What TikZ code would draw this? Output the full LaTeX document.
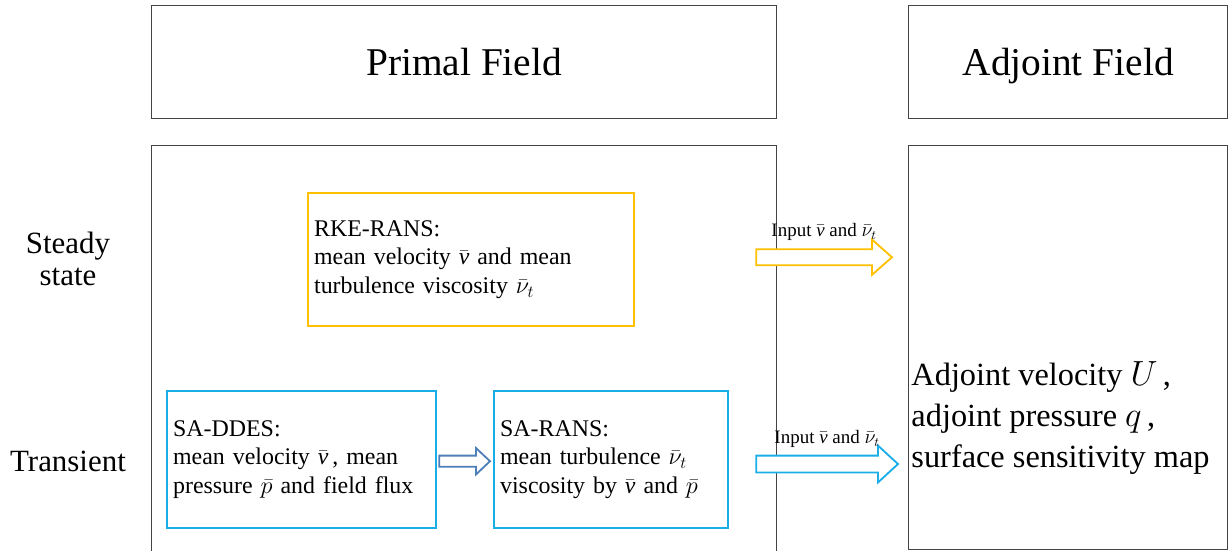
\documentclass[tikz,border=0pt]{standalone}
\usepackage{fontspec}
\setmainfont{Liberation Serif}
\usetikzlibrary{arrows.meta,calc,positioning}
\definecolor{RansOrange}{HTML}{FFC000}
\definecolor{DdesBlue}{HTML}{1AAEE8}
\definecolor{PassBlue}{HTML}{4F7FB8}
\definecolor{FrameGray}{HTML}{444444}
\newcommand{\vmean}{\bar{\textit{v}}}
\newcommand{\numean}{\bar{\nu}_t}

\begin{document}
\begin{tikzpicture}[>=Latex]
  \tikzset{
    frame/.style={draw=FrameGray, line width=0.9pt, fill=white, anchor=north west},
    headtext/.style={font=\fontsize{28}{32}\selectfont, text depth=0pt},
    modelbox/.style={line width=1.6pt, fill=white, inner sep=1.5mm, align=left, anchor=north west, font=\fontsize{17}{20.5}\selectfont},
    rowlabel/.style={align=center, font=\fontsize{22}{23}\selectfont},
    inputlabel/.style={font=\fontsize{13.5}{15}\selectfont},
    fatarrow/.style n args={3}{line width=1.3pt, fill=white, line join=miter,
      to path={let \p1=(\tikztostart), \p2=(\tikztotarget) in
        (\x1,\y1+#1) -- (\x2-#3,\y1+#1) -- (\x2-#3,\y1+#2) -- (\x2,\y1)
        -- (\x2-#3,\y1-#2) -- (\x2-#3,\y1-#1) -- (\x1,\y1-#1) -- cycle}}
  }
  \useasboundingbox (0,0) rectangle (30.8,-13.775);

  % column headers
  \node[frame, headtext, minimum width=15.625cm, minimum height=2.825cm] (primalhead) at (3.775,-0.125) {Primal Field};
  \node[frame, headtext, minimum width=7.975cm, minimum height=2.825cm] (adjointhead) at (22.7,-0.125) {Adjoint Field};

  % field panels (primal one runs off the bottom)
  \node[frame, minimum width=15.625cm, minimum height=10.6cm] (primal) at (3.775,-3.625) {};
  \node[frame, minimum width=7.975cm, minimum height=10.1cm] (adjoint) at (22.7,-3.625) {};

  % row labels
  \node[rowlabel] (steady) at (1.7,-6.475) {Steady\\state};
  \node[rowlabel] (transient) at (1.7,-11.525) {Transient};

  % turbulence models
  \node[modelbox, draw=RansOrange, text width=7.85cm, minimum height=3.325cm] (rke) at (7.675,-4.8)
    {RKE-RANS:\\mean velocity $\vmean$ and mean\\turbulence viscosity $\numean$};
  \node[modelbox, draw=DdesBlue, text width=6.425cm, minimum height=3.425cm] (ddes) at (4.15,-9.75)
    {SA-DDES:\\mean velocity $\vmean$\,, mean\\pressure $\bar{p}$ and field flux};
  \node[modelbox, draw=DdesBlue, text width=5.55cm, minimum height=3.425cm] (rans) at (12.325,-9.75)
    {SA-RANS:\\mean turbulence $\numean$\\viscosity by $\vmean$ and $\bar{p}$};

  % adjoint results
  \node[anchor=west, align=left, inner sep=0pt, font=\fontsize{23}{29}\selectfont] (result) at (22.78,-10.45)
    {Adjoint velocity $U$\,,\\adjoint pressure $q$\,,\\surface sensitivity map};

  % hand-over points for the fat arrows
  \coordinate (ransout) at ($(rke.east -| primal.east)+(-0.525,0.06)$);
  \coordinate (ransin) at ($(rke.east -| adjoint.west)+(-0.4,0.06)$);
  \coordinate (ddesout) at ($(rans.east -| primal.east)+(-0.525,-0.11)$);
  \coordinate (ddesin) at ($(rans.east -| adjoint.west)+(-0.25,-0.11)$);

  \draw[fatarrow={0.2cm}{0.44cm}{0.5cm}, draw=RansOrange] (ransout) to (ransin);
  \draw[fatarrow={0.21cm}{0.46cm}{0.5cm}, draw=DdesBlue] (ddesout) to (ddesin);
  \draw[fatarrow={0.14cm}{0.33cm}{0.35cm}, draw=PassBlue] ($(ddes.east)+(0.05,-0.04)$) to ($(rans.west)+(-0.075,-0.04)$);

  \node[inputlabel, above=0.3cm of $(ransout)!0.5!(ransin)$] (ransinput) {Input $\vmean$ and $\numean$};
  \node[inputlabel, above=0.3cm of $(ddesout)!0.5!(ddesin)$] (ddesinput) {Input $\vmean$ and $\numean$};
\end{tikzpicture}
\end{document}
